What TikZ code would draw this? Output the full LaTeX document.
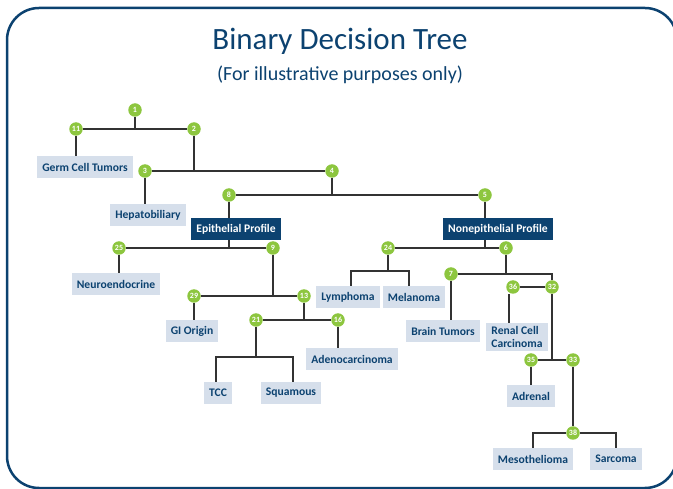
\documentclass[tikz,border=0pt]{standalone}
\usepackage{fontspec}
\setmainfont{Carlito}
\usetikzlibrary{positioning}

\definecolor{tblue}{RGB}{12,66,112}
\definecolor{leafgrey}{RGB}{214,223,235}
\definecolor{splitgreen}{RGB}{141,198,63}

\begin{document}
\begin{tikzpicture}[
    x=1pt, y=-1pt,
    every node/.style={font=\bfseries\fontsize{11.6}{13}\selectfont, text=tblue},
    leaf/.style={fill=leafgrey, minimum height=22pt, inner xsep=5pt, inner ysep=3pt},
    profile/.style={fill=tblue, text=white, minimum height=22pt, inner xsep=5pt},
    split/.style={circle, fill=splitgreen, text=white, minimum size=13.5pt, inner sep=0pt, font=\bfseries\fontsize{8}{8}\selectfont},
    link/.style={draw=black!80, line width=1.2pt}
  ]
    \useasboundingbox (0,0) rectangle (673,489);
    \draw[tblue, line width=2.5pt, rounded corners=32pt] (7,8) rectangle (677,488);

    % title
    \node[font=\fontsize{31}{33}\selectfont] (title) at (340,41) {Binary Decision Tree};
    \node[font=\fontsize{20}{22}\selectfont] (subtitle) at (340,75) {(For illustrative purposes only)};

    % split points
    \node[split] (n1) at (135,110) {1};
    \node[split] (n11) at (76,129) {11};
    \node[split] (n2) at (194,129) {2};
    \node[split] (n3) at (145,171) {3};
    \node[split] (n4) at (332,171) {4};
    \node[split] (n8) at (229,195) {8};
    \node[split] (n5) at (485,195) {5};
    \node[split] (n25) at (119,248) {25};
    \node[split] (n9) at (273,248) {9};
    \node[split] (n29) at (194,296) {29};
    \node[split] (n13) at (304,296) {13};
    \node[split] (n21) at (256,320) {21};
    \node[split] (n16) at (338,320) {16};
    \node[split] (n24) at (388,248) {24};
    \node[split] (n6) at (506,248) {6};
    \node[split] (n7) at (451,274) {7};
    \node[split] (n36) at (513,287) {36};
    \node[split] (n32) at (552,287) {32};
    \node[split] (n35) at (531,360) {35};
    \node[split] (n33) at (573,360) {33};
    \node[split] (n38) at (573,433) {38};

    % profiles
    \node[profile] (epi) at (236,229) {Epithelial Profile};
    \node[profile] (nonepi) at (498,229) {Nonepithelial Profile};

    % tumour types
    \node[leaf] (germ) at (85,167) {Germ Cell Tumors};
    \node[leaf] (hepa) at (148,215) {Hepatobiliary};
    \node[leaf] (neuro) at (116,284) {Neuroendocrine};
    \node[leaf] (gi) at (192,331) {GI Origin};
    \node[leaf] (tcc) at (218,393) {TCC};
    \node[leaf] (squ) at (291,393) {Squamous};
    \node[leaf] (adeno) at (352,359) {Adenocarcinoma};
    \node[leaf] (lym) at (348,297) {Lymphoma};
    \node[leaf] (mel) at (414,297) {Melanoma};
    \node[leaf] (brain) at (443,331) {Brain Tumors};
    \node[leaf, align=left] (renal) at (517,337) {Renal Cell\\Carcinoma};
    \node[leaf] (adrenal) at (531,396) {Adrenal};
    \node[leaf] (meso) at (533,459) {Mesothelioma};
    \node[leaf] (sarc) at (616,459) {Sarcoma};

    \coordinate (f21) at (256,357);
    \coordinate (f24) at (388,271);

    % branches, left
    \draw[link] (n1) -- (n1 |- n11);
    \draw[link] (n11) -- (n2);
    \draw[link] (n11) -- (n11 |- germ.north);
    \draw[link] (n2) -- (n2 |- n3);
    \draw[link] (n3) -- (n4);
    \draw[link] (n3) -- (n3 |- hepa.north);
    \draw[link] (n4) -- (n4 |- n8);
    \draw[link] (n8) -- (n5);
    \draw[link] (n8) -- (n8 |- epi.north);
    \draw[link] (n8 |- epi.south) -- (n8 |- n25);
    \draw[link] (n25) -- (n9);
    \draw[link] (n25) -- (n25 |- neuro.north);
    \draw[link] (n9) -- (n9 |- n29);
    \draw[link] (n29) -- (n13);
    \draw[link] (n29) -- (n29 |- gi.north);
    \draw[link] (n13) -- (n13 |- n21);
    \draw[link] (n21) -- (n16);
    \draw[link] (n16) -- (n16 |- adeno.north);
    \draw[link] (n21) -- (f21);
    \draw[link] ([xshift=-2pt]tcc.north) |- (f21) -| ([xshift=2pt]squ.north);

    % branches, right
    \draw[link] (n5) -- (n5 |- nonepi.north);
    \draw[link] (n5 |- nonepi.south) -- (n5 |- n24);
    \draw[link] (n24) -- (n6);
    \draw[link] (n24) -- (f24);
    \draw[link] ([xshift=3pt]lym.north) |- (f24) -| ([xshift=-5pt]mel.north);
    \draw[link] (n6) -- (n6 |- n7);
    \draw[link] (n7) -| (n32);
    \draw[link] (n7) -- (n7 |- brain.north);
    \draw[link] (n36) -- (n32);
    \draw[link] ([xshift=-4pt]n36.south) -- ([xshift=-4pt]n36.south |- renal.north);
    \draw[link] (n32) -- (n32 |- n35);
    \draw[link] (n35) -- (n33);
    \draw[link] (n35) -- (n35 |- adrenal.north);
    \draw[link] (n33) -- (n38);
    \draw[link] (meso.north) |- (n38) -| (sarc.north);
\end{tikzpicture}
\end{document}
